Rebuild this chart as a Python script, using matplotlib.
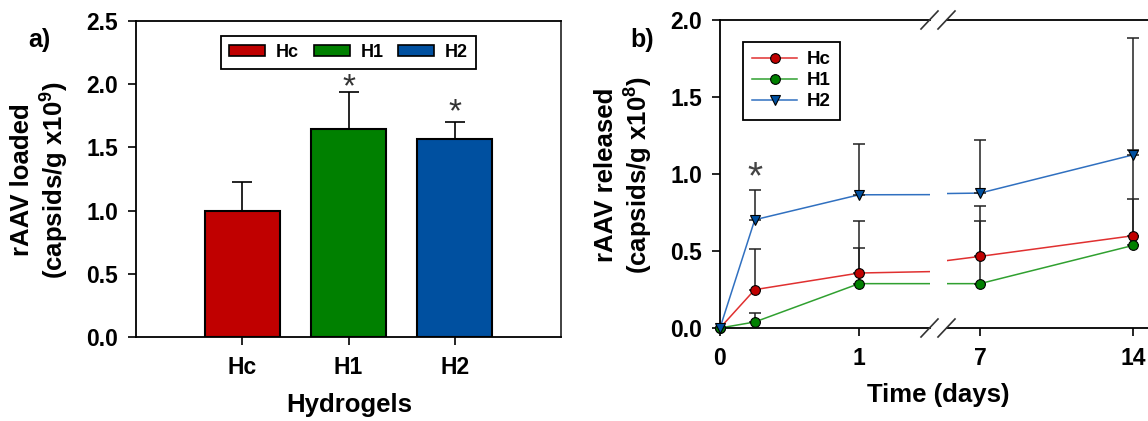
import numpy as np
import matplotlib
matplotlib.use("Agg")
import matplotlib.pyplot as plt
from matplotlib.patches import Patch
from matplotlib.lines import Line2D

plt.rcParams['font.family'] = ['Liberation Sans', 'DejaVu Sans']
plt.rcParams['font.weight'] = 'bold'
plt.rcParams['axes.labelweight'] = 'bold'
plt.rcParams['mathtext.fontset'] = 'custom'
plt.rcParams['mathtext.bf'] = 'Liberation Sans:bold'
plt.rcParams['mathtext.rm'] = 'Liberation Sans:bold'

# panel a data
gels = ['Hc', 'H1', 'H2']
loaded = [1.0, 1.645, 1.568]
loaded_err = [0.225, 0.297, 0.136]
bar_colors = ['#C00000', '#008000', '#0050A0']

# panel b data
days = [0, 0.25, 1, 7, 14]
hc = [0.0, 0.249, 0.357, 0.465, 0.599]
hc_err = [0.0, 0.263, 0.339, 0.324, 0.558]
h1 = [0.0, 0.039, 0.288, 0.288, 0.536]
h1_err = [0.0, 0.058, 0.231, 0.404, 0.301]
h2 = [0.0, 0.703, 0.865, 0.876, 1.124]
h2_err = [0.0, 0.194, 0.329, 0.346, 0.761]

W, H = 1148, 421
fig = plt.figure(figsize=(W / 100, H / 100), dpi=100)


def box(l, t, r, b):
    return [l / W, 1 - b / H, (r - l) / W, (b - t) / H]


# ---------- panel a ----------
ax = fig.add_axes(box(136, 21, 561, 337))
x = np.arange(len(gels))
ax.bar(x, loaded, width=0.71, color=bar_colors, edgecolor='black', linewidth=1.5, zorder=2)
ax.errorbar(x, loaded, yerr=[np.zeros(3), loaded_err], fmt='none', ecolor='black',
            elinewidth=1.2, capsize=7, capthick=1.2, zorder=3)
ax.text(1, loaded[1] + loaded_err[1] + 0.03, '*', ha='center', va='center',
        fontsize=24, fontweight='normal', color='#333333')
ax.text(2, loaded[2] + loaded_err[2] + 0.07, '*', ha='center', va='center',
        fontsize=24, fontweight='normal', color='#333333')
ax.set_xlim(-1.0, 3.0)
ax.set_ylim(0, 2.5)
ax.set_xticks(x)
ax.set_xticklabels(gels)
ax.set_yticks(np.arange(0, 2.51, 0.5))
ax.yaxis.set_major_formatter(matplotlib.ticker.FormatStrFormatter('%.1f'))
ax.tick_params(direction='out', length=6, width=1.2, labelsize=16.5, pad=7)
ax.tick_params(axis='x', pad=8)
for s in ax.spines.values():
    s.set_linewidth(1.3)
ax.spines['right'].set_color('#333333')
handles = [Patch(facecolor=c, edgecolor='black', linewidth=1.2) for c in bar_colors]
leg = ax.legend(handles, gels, loc='upper center', ncol=3, bbox_to_anchor=(0.5, (337 - 36) / 316),
                borderaxespad=0, fancybox=False, edgecolor='black', framealpha=1,
                prop={'size': 13, 'weight': 'bold'}, handlelength=2.0, handleheight=0.6,
                columnspacing=0.8, handletextpad=0.6, borderpad=0.45)
leg.get_frame().set_linewidth(1.3)
fig.text(349 / W, 1 - 405 / H, 'Hydrogels', fontsize=18.5, ha='center', va='center')
fig.text(28 / W, 1 - 40 / H, 'a)', fontsize=18, ha='left', va='center')
fig.text(40 / W, 1 - 180 / H, 'rAAV loaded\n(capsids/g x10$^{\\mathbf{9}}$)', rotation=90,
         ha='center', va='center', fontsize=18.5, multialignment='center', linespacing=1.1)

# ---------- panel b ----------
ax1 = fig.add_axes(box(720, 20, 930, 328))
ax2 = fig.add_axes(box(947, 20, 1148, 328))
ax1.set_xlim(0, 1.51)
ax2.set_xlim(5.49, 14.69)

series = [(hc, hc_err, '#E03030', '#C00000', 'o', 'Hc'),
          (h1, h1_err, '#30A030', '#008000', 'o', 'H1'),
          (h2, h2_err, '#3070C0', '#0050A0', 'v', 'H2')]

for a in (ax1, ax2):
    lo, hi = a.get_xlim()
    for ys, es, lc, mc, mk, name in series:
        a.plot(days, ys, color=lc, linewidth=1.1, zorder=2)
        sel = [i for i, d in enumerate(days) if lo - 0.01 <= d <= hi]
        xs = [days[i] for i in sel]
        yv = [ys[i] for i in sel]
        ev = [es[i] for i in sel]
        a.errorbar(xs, yv, yerr=[np.zeros(len(ev)), ev], fmt='none', ecolor='#222222',
                   elinewidth=1.1, capsize=4.5, capthick=1.1, zorder=3, clip_on=False)
        a.plot(xs, yv, linestyle='none', marker=mk, markersize=7, markerfacecolor=mc,
               markeredgecolor='black', markeredgewidth=0.8, zorder=4, clip_on=False)
    a.set_ylim(0, 2.0)
    a.tick_params(direction='out', length=6, width=1.2, labelsize=16.5, pad=7)
    a.tick_params(axis='x', pad=8)
    for s in a.spines.values():
        s.set_linewidth(1.3)

ax1.set_xticks([0, 1])
ax2.set_xticks([7, 14])
ax1.set_yticks(np.arange(0, 2.01, 0.5))
ax1.yaxis.set_major_formatter(matplotlib.ticker.FormatStrFormatter('%.1f'))
ax1.spines['right'].set_visible(False)
ax2.spines['left'].set_visible(False)
ax2.spines['right'].set_visible(False)
ax2.tick_params(axis='y', left=False, labelleft=False)

ax1.text(0.25, 0.97, '*', ha='center', va='center', fontsize=28, fontweight='normal',
         color='#444444')

# break marks
for yb in (20, 328):
    for xa in (921, 938):
        fig.add_artist(Line2D([xa / W, (xa + 17) / W], [1 - (yb + 9) / H, 1 - (yb - 9) / H],
                              color='#333333', linewidth=1.2))

lh = [Line2D([0], [0], color=lc, marker=mk, markerfacecolor=mc, markeredgecolor='black',
             markeredgewidth=0.8, markersize=7, linewidth=1.1)
      for ys, es, lc, mc, mk, name in series]
leg2 = ax1.legend(lh, [s[5] for s in series], loc='upper left',
                  bbox_to_anchor=((743 - 720) / 210, (328 - 42) / 308), borderaxespad=0,
                  fancybox=False, edgecolor='black', framealpha=1,
                  prop={'size': 13.5, 'weight': 'bold'},
                  handlelength=2.4, handletextpad=0.5, labelspacing=0.2, borderpad=0.5)
leg2.get_frame().set_linewidth(1.3)

fig.text(938 / W, 1 - 395 / H, 'Time (days)', fontsize=18.5, ha='center', va='center')
fig.text(630 / W, 1 - 40 / H, 'b)', fontsize=18, ha='left', va='center')
fig.text(624 / W, 1 - 175 / H, 'rAAV released\n(capsids/g x10$^{\\mathbf{8}}$)', rotation=90,
         ha='center', va='center', fontsize=18.5, multialignment='center', linespacing=1.1)

fig.savefig('out.png', dpi=100)
